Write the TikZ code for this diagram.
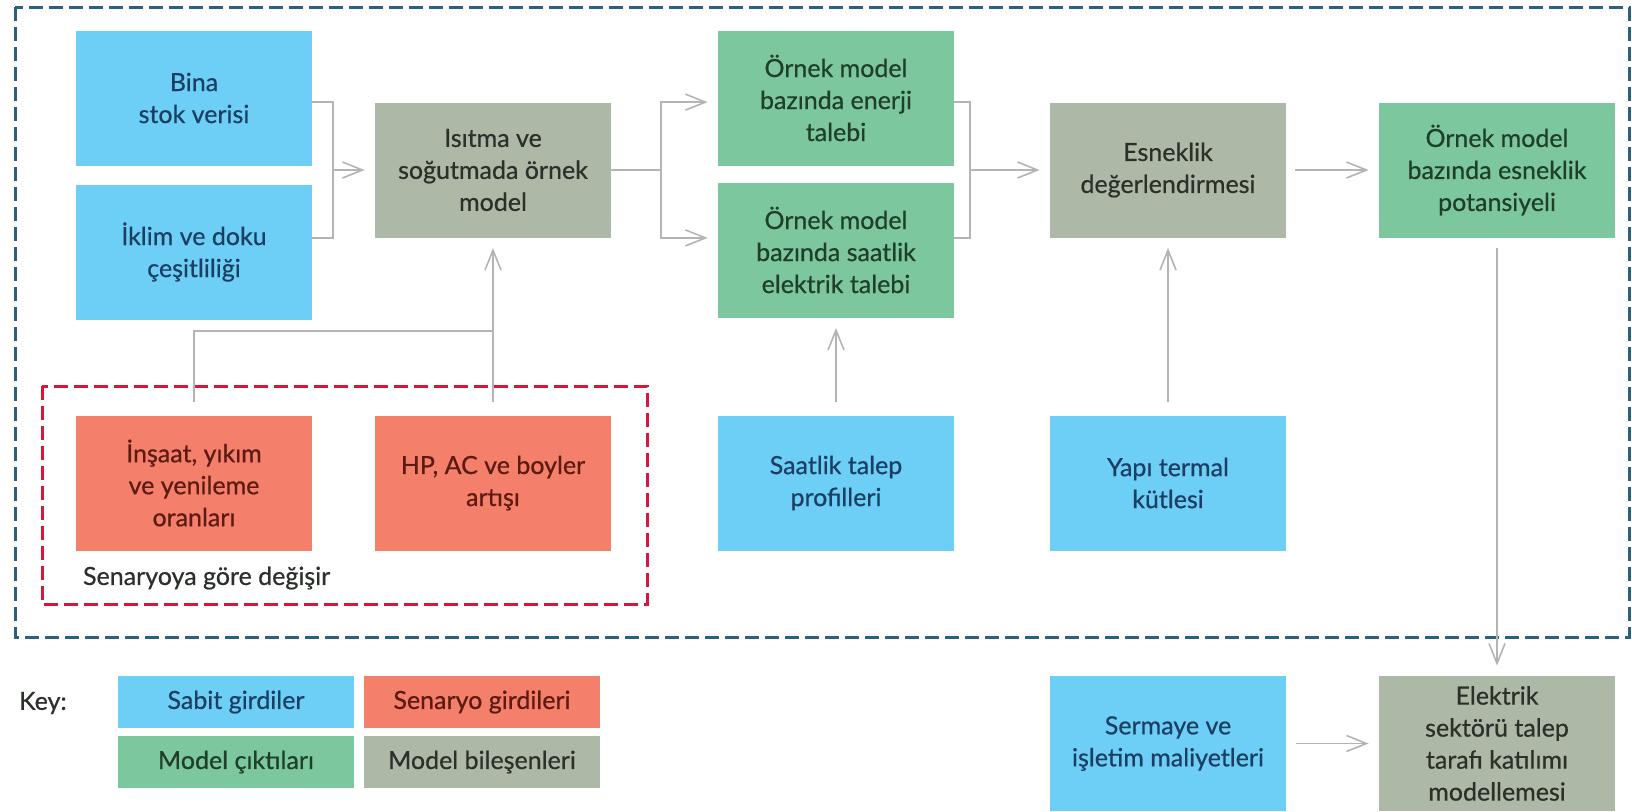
\documentclass[tikz,border=0pt]{standalone}
\usepackage{fontspec}
\setmainfont{Lato}[FakeBold=0.6]
\usetikzlibrary{arrows.meta}
\definecolor{mavi}{HTML}{6DCFF6}
\definecolor{yesil}{HTML}{7DC79E}
\definecolor{gri}{HTML}{ADB9A6}
\definecolor{turuncu}{HTML}{F47F6A}
\definecolor{maviyazi}{HTML}{1B3F63}
\definecolor{yesilyazi}{HTML}{1F3F2B}
\definecolor{griyazi}{HTML}{2B302B}
\definecolor{turuncuyazi}{HTML}{5B1A12}
\definecolor{cizgi}{HTML}{B4B4B4}
\definecolor{mavicizgi}{HTML}{2A6080}
\definecolor{kirmizicizgi}{HTML}{DC143C}
\tikzset{
	kutu/.style={minimum width=118pt, minimum height=67.5pt, inner sep=1pt, align=center, font=\fontsize{12.5}{16}\selectfont},
	sabit/.style={kutu, fill=mavi, text=maviyazi},
	cikti/.style={kutu, fill=yesil, text=yesilyazi},
	bilesen/.style={kutu, fill=gri, text=griyazi},
	senaryo/.style={kutu, fill=turuncu, text=turuncuyazi},
	anahtar/.style={minimum height=26pt},
	hat/.style={draw=cizgi, line width=0.8pt},
	ok/.style={hat, -{Straight Barb[length=10pt, width=8pt]}, shorten >=5pt},
	cerceve/.style={line width=1.5pt, dash pattern=on 7pt off 3pt}
}

\begin{document}
\begin{tikzpicture}[x=0.5pt, y=-0.5pt]
				\useasboundingbox (0,0) rectangle (1632,811);
				\draw[cerceve, mavicizgi] (15,7) rectangle (1629,637);
				\draw[cerceve, kirmizicizgi] (42,386) rectangle (647,604);
				\node[sabit] (bina) at (194,98) {Bina\\stok verisi};
				\node[sabit] (iklim) at (194,252) {İklim ve doku\\çeşitliliği};
				\node[bilesen] (isitma) at (493,170) {Isıtma ve\\soğutmada örnek\\model};
				\node[cikti] (enerji) at (836,98) {Örnek model\\bazında enerji\\talebi};
				\node[cikti] (saatelek) at (836,250) {Örnek model\\bazında saatlik\\elektrik talebi};
				\node[bilesen] (esnek) at (1168,170) {Esneklik\\değerlendirmesi};
				\node[cikti] (potansiyel) at (1497,170) {Örnek model\\bazında esneklik\\potansiyeli};
				\node[senaryo] (insaat) at (194,483) {İnşaat, yıkım\\ve yenileme\\oranları};
				\node[senaryo] (hp) at (493,483) {HP, AC ve boyler\\artışı};
				\node[sabit] (saatprofil) at (836,483) {Saatlik talep\\profilleri};
				\node[sabit] (yapi) at (1168,483) {Yapı termal\\kütlesi};
				\node[sabit] (sermaye) at (1168,743.5) {Sermaye ve\\işletim maliyetleri};
				\node[bilesen] (elektrik) at (1497,743.5) {Elektrik\\sektörü talep\\tarafı katılımı\\modellemesi};
				\node[anchor=west, text=griyazi, font=\fontsize{12.5}{16}\selectfont] (senaryoyazi) at (76,578) {Senaryoya göre değişir};
				\node[anchor=west, text=griyazi, font=\fontsize{12.5}{16}\selectfont] (key) at (12,703) {Key:};
				\node[sabit, anahtar] (k-sabit) at (236,702) {Sabit girdiler};
				\node[senaryo, anahtar] (k-senaryo) at (482,702) {Senaryo girdileri};
				\node[cikti, anahtar] (k-cikti) at (236,762) {Model çıktıları};
				\node[bilesen, anahtar] (k-bilesen) at (482,762) {Model bileşenleri};
				\coordinate (k1) at (333,170);
				\coordinate (k2) at (661,170);
				\coordinate (k3) at (970,170);
				\coordinate (k4) at (493,331);
				\draw[hat] (bina.east |- isitma.north) -| (k1) |- (iklim.east |- isitma.south);
				\draw[ok] (k1) -- (isitma);
				\draw[hat] (isitma) -- (k2);
				\draw[ok] (k2) |- (enerji.west |- isitma.north);
				\draw[ok] (k2) |- (saatelek.west |- isitma.south);
				\draw[hat] (enerji.east |- esnek.north) -| (k3) |- (saatelek.east |- esnek.south);
				\draw[ok] (k3) -- (esnek);
				\draw[ok, shorten <=4.5pt] (esnek) -- (potansiyel);
				\draw[ok, shorten <=5pt] (potansiyel) -- (elektrik);
				\draw[ok, shorten <=5pt] (sermaye) -- (elektrik);
				\draw[hat, shorten <=6.5pt] (insaat.north) |- (k4);
				\draw[ok, shorten <=6.5pt] (hp.north) -- (isitma.south);
				\draw[ok, shorten <=6.5pt] (saatprofil.north) -- (saatelek.south);
				\draw[ok, shorten <=6.5pt] (yapi.north) -- (esnek.south);
			\end{tikzpicture}
\end{document}
